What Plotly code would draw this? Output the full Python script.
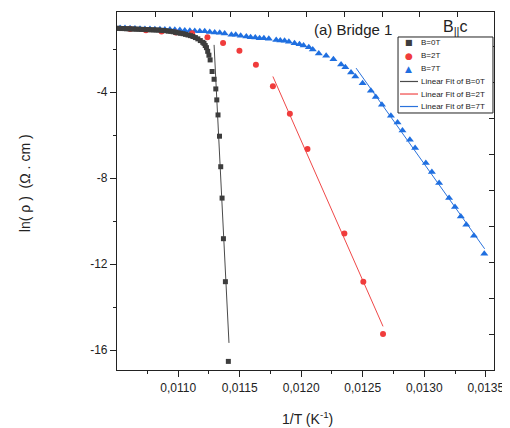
import plotly.graph_objects as go

# ---------------- data ----------------
# B = 0T (squares)
x_b0 = [0.01050, 0.01052, 0.01054, 0.01056, 0.01058, 0.01060, 0.01062, 0.01064, 0.01066, 0.01068,
        0.01070, 0.01072, 0.01074, 0.01076, 0.01078, 0.01080, 0.01082, 0.01084, 0.01086, 0.01088,
        0.01090, 0.01092, 0.01094, 0.01096, 0.01098, 0.01100, 0.01102, 0.01104, 0.01106, 0.01108,
        0.01110, 0.01112, 0.01114, 0.01116, 0.01118, 0.01120,
        0.01121, 0.01122, 0.01123, 0.01124, 0.01125, 0.01126,
        0.011276, 0.011292, 0.011306, 0.011314, 0.011324, 0.011336, 0.011346, 0.011357, 0.011368,
        0.011384, 0.011408]
y_b0 = [-1.03, -1.03, -1.04, -1.04, -1.05, -1.05, -1.06, -1.06, -1.07, -1.07,
        -1.08, -1.08, -1.09, -1.09, -1.10, -1.10, -1.11, -1.11, -1.12, -1.13,
        -1.14, -1.16, -1.17, -1.19, -1.22, -1.24, -1.26, -1.28, -1.31, -1.34,
        -1.37, -1.41, -1.46, -1.52, -1.60, -1.68,
        -1.73, -1.83, -1.93, -2.10, -2.28, -2.50,
        -3.04, -3.40, -3.85, -4.36, -5.06, -6.05, -7.47, -8.93, -10.82,
        -12.82, -16.53]

# B = 2T (circles)
x_b2 = [0.010609, 0.010738, 0.010865, 0.010981, 0.011113, 0.011238, 0.011365, 0.011498,
        0.011632, 0.011770, 0.011908, 0.012051, 0.012351, 0.012505, 0.012665]
y_b2 = [-1.06, -1.12, -1.18, -1.22, -1.26, -1.44, -1.71, -2.07,
        -2.72, -3.72, -5.01, -6.64, -10.58, -12.82, -15.26]

# B = 7T (triangles)
x_b7 = [0.010528, 0.010568, 0.010609, 0.010649, 0.010690, 0.010730, 0.010771, 0.010811, 0.010852,
        0.010892, 0.010933, 0.010973, 0.011014, 0.011054, 0.011095, 0.011135, 0.011176, 0.011216,
        0.011257, 0.011297, 0.011338, 0.011378, 0.011433, 0.011468, 0.011508, 0.011554, 0.011589,
        0.011627, 0.011662, 0.011697, 0.011737, 0.011797, 0.011830, 0.011865, 0.011900, 0.011946,
        0.011986, 0.012019, 0.012062, 0.012094, 0.012143, 0.012203, 0.012262, 0.012324, 0.012359,
        0.012405, 0.012440, 0.012499, 0.012566, 0.012606, 0.012656, 0.012729, 0.012783, 0.012823,
        0.012883, 0.012926, 0.013013, 0.013062, 0.013121, 0.013202, 0.013250, 0.013297, 0.013342,
        0.013404, 0.013488]
y_b7 = [-1.02, -1.02, -1.03, -1.04, -1.05, -1.06, -1.06, -1.07, -1.07,
        -1.08, -1.09, -1.10, -1.11, -1.13, -1.14, -1.15, -1.17, -1.17,
        -1.20, -1.22, -1.24, -1.27, -1.33, -1.33, -1.37, -1.41, -1.44,
        -1.46, -1.49, -1.49, -1.52, -1.57, -1.60, -1.61, -1.65, -1.72,
        -1.77, -1.83, -1.91, -2.01, -2.20, -2.31, -2.47, -2.71, -2.84,
        -3.09, -3.27, -3.58, -3.94, -4.22, -4.59, -5.10, -5.41, -5.79,
        -6.22, -6.60, -7.30, -7.72, -8.23, -8.93, -9.35, -9.79, -10.17,
        -10.68, -11.52]

# Linear fits (end points)
fit0_x = [0.011292, 0.011413]
fit0_y = [-1.80, -15.67]
fit2_x = [0.011770, 0.012665]
fit2_y = [-3.27, -14.90]
fit7_x = [0.012446, 0.013491]
fit7_y = [-2.88, -11.29]

# Tick labels
x_tick_vals = [0.0110, 0.0115, 0.0120, 0.0125, 0.0130, 0.0135]
x_tick_text = ["0,0110", "0,0115", "0,0120", "0,0125", "0,0130", "0,0135"]
x_minor_vals = [0.01075, 0.01125, 0.01175, 0.01225, 0.01275, 0.01325]
y_tick_vals = [-16, -12, -8, -4]
y_tick_text = ["-16", "-12", "-8", "-4"]
y_minor_vals = [-14, -10, -6, -2]

legend_labels = ["B=0T", "B=2T", "B=7T",
                 "Linear Fit of B=0T", "Linear Fit of B=2T", "Linear Fit of B=7T"]

# ---------------- styles ----------------
C0 = "#3d3d3d"
C2 = "#f03c3c"
C7 = "#1f6fe0"
L0 = "#4a4a4a"
L2 = "#f04848"
L7 = "#2a72dc"
FONT = "Liberation Sans, Arial, sans-serif"

fig = go.Figure()

fig.add_trace(go.Scatter(x=fit0_x, y=fit0_y, mode="lines",
                         line=dict(color=L0, width=1), showlegend=False))
fig.add_trace(go.Scatter(x=fit2_x, y=fit2_y, mode="lines",
                         line=dict(color=L2, width=1), showlegend=False))
fig.add_trace(go.Scatter(x=fit7_x, y=fit7_y, mode="lines",
                         line=dict(color=L7, width=1), showlegend=False))

fig.add_trace(go.Scatter(x=x_b7, y=y_b7, mode="markers",
                         marker=dict(symbol="triangle-up", size=7, color=C7),
                         showlegend=False))
fig.add_trace(go.Scatter(x=x_b2, y=y_b2, mode="markers",
                         marker=dict(symbol="circle", size=6, color=C2),
                         showlegend=False))
fig.add_trace(go.Scatter(x=x_b0, y=y_b0, mode="markers",
                         marker=dict(symbol="square", size=5, color=C0),
                         showlegend=False))

# empty trace to host the top / right frame axes
fig.add_trace(go.Scatter(x=[None], y=[None], xaxis="x2", yaxis="y2",
                         showlegend=False, hoverinfo="skip"))

# page body has an 8px margin: the figure is made 8px smaller and shifted
fig.update_layout(
    width=502, height=420,
    margin=dict(l=109, r=16, t=4, b=58),
    paper_bgcolor="white", plot_bgcolor="white",
    font=dict(family=FONT, color="#222"),
    showlegend=False,
    xaxis=dict(range=[0.010503, 0.013567], showline=True, linecolor="#222", linewidth=1.2,
               ticks="outside", ticklen=6, tickwidth=1.2, tickcolor="#222",
               tickmode="array", tickvals=x_tick_vals, ticktext=x_tick_text,
               tickfont=dict(size=12, color="#222"),
               minor=dict(tickmode="array", tickvals=x_minor_vals, ticks="outside",
                          ticklen=3, tickwidth=1, tickcolor="#222", showgrid=False),
               showgrid=False, zeroline=False),
    yaxis=dict(range=[-16.93, -0.27], showline=True, linecolor="#222", linewidth=1.2,
               ticks="outside", ticklen=6, tickwidth=1.2, tickcolor="#222",
               tickmode="array", tickvals=y_tick_vals, ticktext=y_tick_text,
               tickfont=dict(size=12, color="#222"),
               minor=dict(tickmode="array", tickvals=y_minor_vals, ticks="outside",
                          ticklen=3, tickwidth=1, tickcolor="#222", showgrid=False),
               showgrid=False, zeroline=False),
    xaxis2=dict(overlaying="x", side="top", anchor="y2", range=[0, 1],
                showline=True, linecolor="#222", linewidth=1.2,
                tickmode="linear", tick0=0.1008, dtick=0.1004,
                ticks="inside", ticklen=5, tickwidth=1, tickcolor="#222",
                showticklabels=False, showgrid=False, zeroline=False),
    yaxis2=dict(overlaying="y", side="right", anchor="x2", range=[0, 1],
                showline=True, linecolor="#222", linewidth=1.2,
                tickmode="linear", tick0=0.098, dtick=0.1006,
                ticks="inside", ticklen=5, tickwidth=1, tickcolor="#222",
                showticklabels=False, showgrid=False, zeroline=False),
)

ann = []
# axis titles
ann.append(dict(text="1/T (K<sup>-1</sup>)", xref="paper", yref="paper",
                x=0.504, y=-0.134, xanchor="center", yanchor="middle",
                showarrow=False, font=dict(size=14, color="#222", family=FONT)))
ann.append(dict(text="ln( ρ )  (Ω . cm )", xref="paper", yref="paper",
                x=-0.244, y=0.522, xanchor="center", yanchor="middle", textangle=-90,
                showarrow=False, font=dict(size=14, color="#222", family=FONT)))
# in-plot titles
ann.append(dict(text="(a) Bridge 1", xref="paper", yref="paper",
                x=0.626, y=0.950, xanchor="center", yanchor="middle",
                showarrow=False, font=dict(size=15, color="#222", family=FONT)))
ann.append(dict(text="B<sub>||</sub>c", xref="paper", yref="paper",
                x=0.8966, y=0.958, xanchor="center", yanchor="middle",
                showarrow=False, font=dict(size=16, color="#222", family=FONT)))

# manual legend
row_y = [0.9142, 0.8771, 0.8408, 0.8059, 0.7709, 0.7360]
shapes = [dict(type="rect", xref="paper", yref="paper", x0=0.7454, x1=0.9973,
               y0=0.7179, y1=0.9302, line=dict(color="#222", width=1),
               fillcolor="white", layer="above")]
glyphs = [("■", C0, 8), ("●", C2, 9), ("▲", C7, 9)]
for i, (g, c, s) in enumerate(glyphs):
    ann.append(dict(text=g, xref="paper", yref="paper", x=0.7745, y=row_y[i],
                    xanchor="center", yanchor="middle", showarrow=False,
                    font=dict(size=s, color=c, family="DejaVu Sans")))
for i, c in enumerate([L0, L2, L7]):
    shapes.append(dict(type="line", xref="paper", yref="paper", x0=0.7507, x1=0.7984,
                       y0=row_y[3 + i], y1=row_y[3 + i], line=dict(color=c, width=1.2),
                       layer="above"))
for i, lab in enumerate(legend_labels):
    ann.append(dict(text=lab, xref="paper", yref="paper", x=0.8011, y=row_y[i],
                    xanchor="left", yanchor="middle", showarrow=False,
                    font=dict(size=8, color="#222", family=FONT)))

fig.update_layout(annotations=ann, shapes=shapes)
fig.write_html("out.html")
